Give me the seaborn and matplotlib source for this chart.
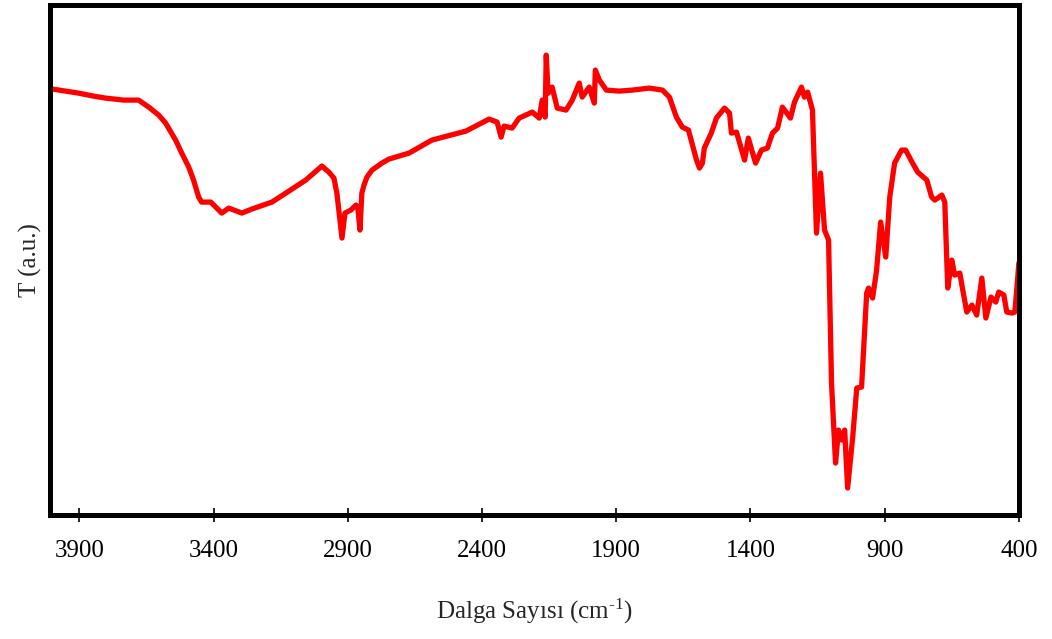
import numpy as np
import pandas as pd
import matplotlib
matplotlib.use("Agg")
import matplotlib.pyplot as plt
import seaborn as sns

# FTIR spectrum: wavenumber (cm-1) and transmittance (arbitrary units)
wavenumber = [
    4000, 3904, 3848, 3803, 3736, 3680, 3642, 3605, 3579, 3542, 3519, 3493, 3475, 3456,
    3445, 3411, 3392, 3370, 3344, 3295, 3258, 3183, 3131, 3057, 3027, 2997, 2971, 2952,
    2941, 2922, 2911, 2889, 2870, 2863, 2855, 2848, 2840, 2829, 2810, 2773, 2747, 2672,
    2587, 2460, 2374, 2344, 2329, 2318, 2288, 2262, 2213, 2187, 2176, 2165, 2161, 2154,
    2139, 2120, 2087, 2064, 2038, 2027, 2001, 1982, 1978, 1963, 1937, 1889, 1840, 1777,
    1728, 1702, 1676, 1654, 1631, 1601, 1590, 1579, 1572, 1546, 1527, 1497, 1478, 1471,
    1452, 1422, 1408, 1381, 1359, 1337, 1318, 1299, 1281, 1251, 1236, 1210, 1199, 1187,
    1169, 1154, 1139, 1124, 1109, 1098, 1083, 1072, 1060, 1049, 1038, 1019, 1004, 986,
    967, 960, 945, 930, 915, 896, 881, 863, 837, 822, 796, 777, 743, 725, 713, 687,
    676, 665, 650, 639, 620, 609, 594, 575, 557, 538, 523, 504, 486, 475, 456, 445,
    426, 415, 407, 400,
]
transmittance = [
    426, 422, 419, 417, 415, 415, 408, 400, 392, 375, 362, 348, 335, 318,
    313, 313, 308, 302, 307, 302, 306, 313, 322, 335, 342, 349, 343, 337,
    322, 277, 302, 305, 310, 308, 285, 322, 330, 338, 345, 352, 356, 362,
    375, 384, 396, 393, 378, 389, 387, 397, 403, 397, 415, 398, 460, 422,
    428, 407, 405, 415, 432, 418, 428, 412, 445, 435, 425, 424, 425, 427,
    425, 418, 398, 388, 385, 355, 347, 352, 367, 382, 397, 407, 402, 382,
    383, 355, 377, 352, 365, 367, 382, 387, 408, 397, 413, 428, 418, 423,
    405, 282, 342, 285, 275, 132, 52, 85, 75, 85, 27, 78, 127, 128,
    222, 227, 217, 245, 293, 258, 318, 352, 365, 365, 352, 343, 335, 318, 315, 320,
    313, 227, 255, 240, 242, 225, 203, 210, 200, 237, 197, 218, 213, 223, 220, 203,
    202, 203, 228, 252,
]
tick_values = [3900, 3400, 2900, 2400, 1900, 1400, 900, 400]

spectrum = pd.DataFrame({"wavenumber": wavenumber, "T": transmittance})

sns.set_style("white")
plt.rcParams["font.family"] = ["Liberation Serif", "DejaVu Serif"]
plt.rcParams["mathtext.default"] = "regular"

fig = plt.figure(figsize=(10.52, 6.39), dpi=100)
ax = fig.add_axes([0.0475, 0.194, 0.921, 0.798])

sns.lineplot(data=spectrum, x="wavenumber", y="T", sort=False, color="#ff0000",
             linewidth=3.8, ax=ax, estimator=None,
             solid_joinstyle="round", solid_capstyle="round")

ax.set_xlim(4010, 400)
ax.set_ylim(0, 510)
ax.set_xticks(tick_values)
ax.set_xticklabels([str(v) for v in tick_values])
ax.set_yticks([])

for side in ax.spines.values():
    side.set_color("black")
    side.set_linewidth(3.6)
    side.set_visible(True)

ax.tick_params(axis="x", direction="inout", length=10, width=1.2, colors="black",
               labelsize=18, pad=13, bottom=True)
ax.set_xlabel("Dalga Sayısı (cm$^{\u2010 1}$)", fontsize=18, labelpad=25)
ax.set_ylabel("T (a.u.)", fontsize=18, labelpad=6)

fig.savefig("out.png", dpi=100, facecolor="white")
